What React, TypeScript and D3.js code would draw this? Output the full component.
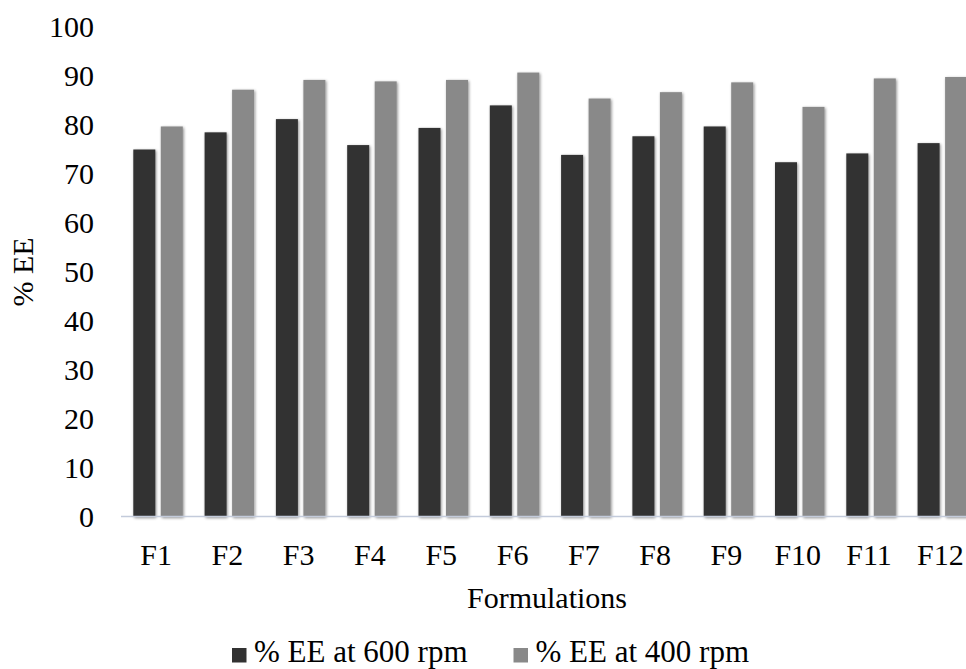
import React from "react";
import * as d3 from "d3";

const formulations = ["F1", "F2", "F3", "F4", "F5", "F6", "F7", "F8", "F9", "F10", "F11", "F12"];
const ee600 = [75.0, 78.5, 81.2, 75.9, 79.4, 84.0, 73.9, 77.7, 79.7, 72.4, 74.2, 76.3];
const ee400 = [79.7, 87.2, 89.2, 88.9, 89.2, 90.7, 85.4, 86.7, 88.7, 83.7, 89.5, 89.8];
const yTicks = [0, 10, 20, 30, 40, 50, 60, 70, 80, 90, 100];
const seriesNames = ["% EE at 600 rpm", "% EE at 400 rpm"];
const seriesColors = ["#323232", "#898989"];

const W = 966;
const H = 669;
const textStyle: React.CSSProperties = {
  fontFamily: '"Liberation Serif", "Times New Roman", serif',
  fontSize: "30px",
  fill: "#000",
};
const legendStyle: React.CSSProperties = { ...textStyle, fontSize: "31px" };

export default function App() {
  const x = d3.scaleBand<string>().domain(formulations).range([122.4, 978]).paddingInner(0).paddingOuter(0);
  const y = d3.scaleLinear().domain([0, 100]).range([517, 27]);
  const barW = 22;
  const pairGap = 5.5;
  const groupW = barW * 2 + pairGap;
  const series = [ee600, ee400];

  return (
    <svg width={W} height={H} style={{ display: "block", position: "absolute", left: 0, top: 0 }}>
      <defs>
        <filter id="barShadow" x="-30%" y="-5%" width="160%" height="110%">
          <feGaussianBlur in="SourceAlpha" stdDeviation="1.6" />
          <feOffset dx="1" dy="1" result="blur" />
          <feComponentTransfer>
            <feFuncA type="linear" slope="0.45" />
          </feComponentTransfer>
          <feMerge>
            <feMergeNode />
            <feMergeNode in="SourceGraphic" />
          </feMerge>
        </filter>
      </defs>
      <rect x={0} y={0} width={W} height={H} fill="#ffffff" />

      {/* y tick labels */}
      {yTicks.map((t) => (
        <text key={t} x={94} y={y(t)} dy="0.33em" textAnchor="end" style={textStyle}>
          {t}
        </text>
      ))}

      {/* axis title */}
      <text transform={`translate(33,272) rotate(-90)`} textAnchor="middle" style={textStyle}>
        % EE
      </text>

      {/* bars */}
      {formulations.map((f, i) => {
        const cx = (x(f) as number) + x.bandwidth() / 2;
        const x0 = cx - groupW / 2;
        return (
          <g key={f} filter="url(#barShadow)">
            {series.map((vals, s) => (
              <rect
                key={s}
                x={x0 + s * (barW + pairGap)}
                y={y(vals[i])}
                width={barW}
                height={y(0) - y(vals[i])}
                fill={seriesColors[s]}
              />
            ))}
          </g>
        );
      })}

      {/* x axis line */}
      <line x1={121} x2={W} y1={516.5} y2={516.5} stroke="#c3cbdb" strokeWidth={1.5} />

      {/* x tick labels */}
      {formulations.map((f) => (
        <text key={f} x={(x(f) as number) + x.bandwidth() / 2 - 2} y={565} textAnchor="middle" style={textStyle}>
          {f}
        </text>
      ))}

      <text x={547} y={608} textAnchor="middle" style={textStyle}>
        Formulations
      </text>

      {/* legend */}
      {seriesNames.map((name, s) => {
        const lx = s === 0 ? 232 : 513.5;
        return (
          <g key={name}>
            <rect x={lx} y={648} width={14.5} height={14.5} fill={seriesColors[s]} />
            <text x={lx + 22} y={662} style={legendStyle}>
              {name}
            </text>
          </g>
        );
      })}
    </svg>
  );
}
